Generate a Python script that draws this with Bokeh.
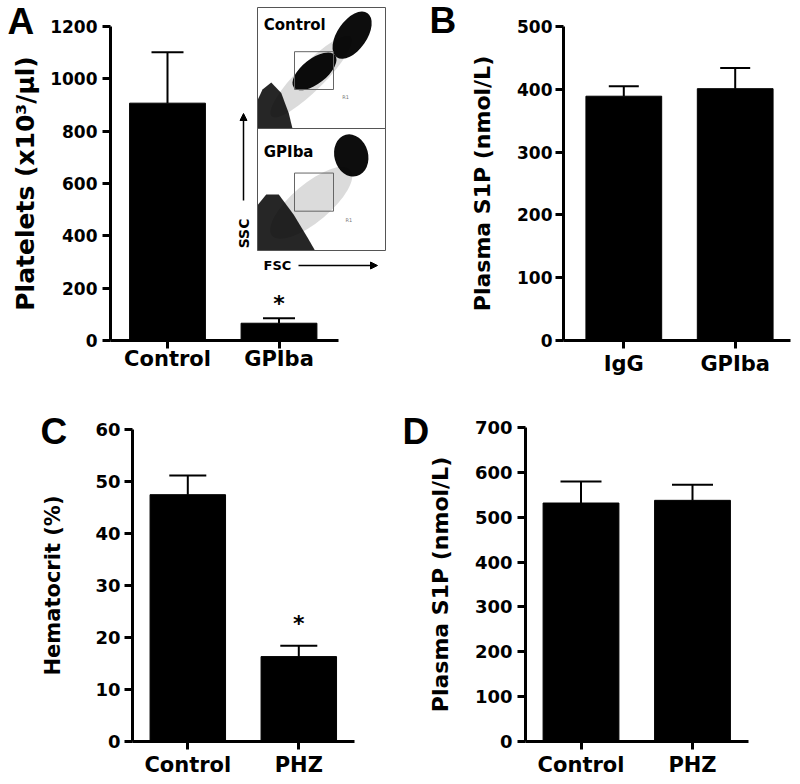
from bokeh.plotting import figure
from bokeh.layouts import column, row
from bokeh.models import Range1d, FixedTicker, Arrow, NormalHead
from bokeh.core.properties import value
from bokeh.embed import file_html
from bokeh.resources import INLINE

FONT = "DejaVu Sans"
LFONT = "Liberation Sans"

# ---------------- data ----------------
a_groups = ["Control", "GPIba"]
a_means = [907, 66]
a_sems = [195, 19]
a_sig = ["", "*"]
a_ticks = [0, 200, 400, 600, 800, 1000, 1200]

b_groups = ["IgG", "GPIba"]
b_means = [389, 401]
b_sems = [16, 33]
b_sig = ["", ""]
b_ticks = [0, 100, 200, 300, 400, 500]

c_groups = ["Control", "PHZ"]
c_means = [47.5, 16.3]
c_sems = [3.7, 2.1]
c_sig = ["", "*"]
c_ticks = [0, 10, 20, 30, 40, 50, 60]

d_groups = ["Control", "PHZ"]
d_means = [532, 538]
d_sems = [48, 35]
d_sig = ["", ""]
d_ticks = [0, 100, 200, 300, 400, 500, 600, 700]

# inset: flow cytometry FSC/SSC (channels 0-1024)
inset_titles = ["Control", "GPIba"]
inset_title_fsc = [50, 50]
inset_title_ssc = [872, 825]
gate_fsc = [296, 608]
gate_ssc = [330, 650]
gate_label_fsc = [678, 704]
gate_label_ssc = [269, 252]
top_pop_fsc = [430, 757, 456]
top_pop_ssc = [440, 790, 484]
top_pop_w = [900, 430, 420]
top_pop_h = [230, 250, 210]
top_pop_ang = [45, 55, 38]
top_pop_alpha = [0.14, 0.95, 0.95]
bot_pop_fsc = [430, 750]
bot_pop_ssc = [400, 798]
bot_pop_w = [820, 270]
bot_pop_h = [320, 360]
bot_pop_ang = [40, 15]
bot_pop_alpha = [0.14, 0.95]
top_debris_fsc = [0, 280, 250, 190, 110, 40, 0]
top_debris_ssc = [0, 0, 130, 300, 390, 330, 240]
bot_debris_fsc = [0, 460, 400, 290, 170, 70, 0]
bot_debris_ssc = [0, 0, 110, 300, 470, 470, 380]
ssc_arrow = [-112, 420, -112, 1150]
fsc_arrow = [328, -126, 960, -126]
ssc_text = [-112, 143]
fsc_text = [48, -126]


def make_panel(groups, means, sems, sig, ticks, ylabel, letter, g):
    ppu_x = g["ppu"]
    ppu_y = g["span"] / ticks[-1]
    xs0 = 1 - (g["c1"] - g["ox"]) / ppu_x
    ys0 = -(g["oy"] + g["h"] - g["zero"]) / ppu_y
    ys1 = (g["zero"] - g["oy"]) / ppu_y
    p = figure(width=g["w"], height=g["h"], output_backend="svg", toolbar_location=None,
               min_border_left=0, min_border_right=0, min_border_top=0, min_border_bottom=0,
               x_range=Range1d(xs0, xs0 + g["w"] / ppu_x), y_range=Range1d(ys0, ys1),
               background_fill_color="white", border_fill_color="white")
    xs = list(range(1, len(groups) + 1))
    tops = [m + s for m, s in zip(means, sems)]
    hw = g["cap"] / 2 / ppu_x
    p.segment(x0=xs, y0=means, x1=xs, y1=tops, line_color="black", line_width=2)
    p.segment(x0=[x - hw for x in xs], y0=tops, x1=[x + hw for x in xs], y1=tops,
              line_color="black", line_width=2)
    p.vbar(x=xs, top=means, width=0.68, fill_color="black", line_color="black")
    p.text(x=xs, y=tops, text=sig, text_font=value(FONT), text_font_size="22px",
           text_font_style="bold", text_align="center", text_baseline="alphabetic",
           y_offset=g["ast_off"], text_color="black")
    # axes fixed at data locations inside the (full-size) frame
    yloc = xs0 + (g["axis_x"] - g["ox"]) / ppu_x
    p.yaxis.fixed_location = yloc
    p.xaxis.fixed_location = 0
    p.xaxis.ticker = FixedTicker(ticks=xs)
    p.xaxis.major_label_overrides = {x: gname for x, gname in zip(xs, groups)}
    p.xaxis.bounds = (yloc, xs0 + (g["axis_end"] - g["ox"]) / ppu_x)
    p.yaxis.ticker = FixedTicker(ticks=ticks)
    p.yaxis.bounds = (0, ticks[-1])
    p.yaxis.axis_label = ylabel
    for ax in (p.xaxis, p.yaxis):
        ax.axis_line_width = 3
        ax.axis_line_color = "black"
        ax.major_tick_line_width = 3
        ax.major_tick_line_color = "black"
        ax.major_tick_out = 8
        ax.major_tick_in = 0
        ax.minor_tick_line_color = None
        ax.major_label_text_font = FONT
        ax.major_label_text_font_style = "bold"
        ax.major_label_text_color = "black"
        ax.axis_label_text_font = FONT
        ax.axis_label_text_font_style = "bold"
        ax.axis_label_text_color = "black"
    p.xaxis.major_label_text_font_size = "21px"
    p.yaxis.major_label_text_font_size = g["tick_fs"]
    p.xaxis.major_label_standoff = g["xstand"]
    p.yaxis.major_label_standoff = g["ystand"]
    p.yaxis.axis_label_standoff = g["lstand"]
    p.yaxis.axis_label_text_font_size = g["lab_fs"]
    p.xgrid.grid_line_color = None
    p.ygrid.grid_line_color = None
    p.outline_line_color = None
    # panel letter
    p.text(x=[xs0 + (g["lx"] - g["ox"]) / ppu_x], y=[(g["zero"] - g["ly"]) / ppu_y], text=[letter],
           text_font=value(LFONT), text_font_size="37px", text_font_style="bold",
           text_baseline="alphabetic", text_align="left", text_color="black")
    return p


# geometry in page pixels
gA = dict(ox=0, oy=0, w=400, h=389, axis_x=110, zero=340, span=314, c1=167, ppu=111.5,
          axis_end=338, cap=32, ast_off=-15, tick_fs="17px", xstand=-2, ystand=5, lstand=7,
          lab_fs="25px", lx=7, ly=21)
gB = dict(ox=400, oy=0, w=399, h=389, axis_x=563, zero=340, span=314, c1=623.3, ppu=111.4,
          axis_end=790, cap=30, ast_off=-4, tick_fs="17px", xstand=3, ystand=3, lstand=19,
          lab_fs="22px", lx=429, ly=20)
gC = dict(ox=0, oy=389, w=400, h=394, axis_x=132, zero=740.7, span=311.4, c1=187.3, ppu=111.0,
          axis_end=354, cap=37, ast_off=-22, tick_fs="18px", xstand=4, ystand=4, lstand=27,
          lab_fs="21px", lx=40, ly=431)
gD = dict(ox=400, oy=389, w=399, h=394, axis_x=525, zero=740.7, span=313.4, c1=580.5, ppu=111.5,
          axis_end=748, cap=41, ast_off=-4, tick_fs="18px", xstand=4, ystand=5, lstand=19,
          lab_fs="22px", lx=402, ly=431)

pA = make_panel(a_groups, a_means, a_sems, a_sig, a_ticks, "Platelets (x10\u00b3/\u03bcl)", "A", gA)
pB = make_panel(b_groups, b_means, b_sems, b_sig, b_ticks, "Plasma S1P (nmol/L)", "B", gB)
pC = make_panel(c_groups, c_means, c_sems, c_sig, c_ticks, "Hematocrit (%)", "C", gC)
pD = make_panel(d_groups, d_means, d_sems, d_sig, d_ticks, "Plasma S1P (nmol/L)", "D", gD)

# ---------------- inset in panel A ----------------
# inset box: x 257..385, top panel y 7..128, bottom panel y 128..250 (page px); frame = whole figure 400x389
fx_ppu = 128 / 1024
ty_ppu = 121 / 1024
by_ppu = 122 / 1024
pA.extra_x_ranges = {"fsc": Range1d(-257 / fx_ppu, (400 - 257) / fx_ppu)}
pA.extra_y_ranges = {"ssc_top": Range1d(-(389 - 128) / ty_ppu, 128 / ty_ppu),
                     "ssc_bot": Range1d(-(389 - 250) / by_ppu, 250 / by_ppu)}

pA.ellipse(x=top_pop_fsc, y=top_pop_ssc, width=top_pop_w, height=top_pop_h, angle=top_pop_ang,
           angle_units="deg", fill_color="black", fill_alpha=top_pop_alpha, line_color=None,
           x_range_name="fsc", y_range_name="ssc_top")
pA.ellipse(x=bot_pop_fsc, y=bot_pop_ssc, width=bot_pop_w, height=bot_pop_h, angle=bot_pop_ang,
           angle_units="deg", fill_color="black", fill_alpha=bot_pop_alpha, line_color=None,
           x_range_name="fsc", y_range_name="ssc_bot")
pA.patch(x=top_debris_fsc, y=top_debris_ssc, fill_color="black", fill_alpha=0.85, line_color=None,
         x_range_name="fsc", y_range_name="ssc_top")
pA.patch(x=bot_debris_fsc, y=bot_debris_ssc, fill_color="black", fill_alpha=0.85, line_color=None,
         x_range_name="fsc", y_range_name="ssc_bot")
for rn in ("ssc_top", "ssc_bot"):
    pA.quad(left=[0], right=[1024], bottom=[0], top=[1024], fill_color=None,
            line_color="#555555", line_width=1, x_range_name="fsc", y_range_name=rn)
    pA.quad(left=[gate_fsc[0]], right=[gate_fsc[1]], bottom=[gate_ssc[0]], top=[gate_ssc[1]],
            fill_color=None, line_color="#666666", line_width=1,
            x_range_name="fsc", y_range_name=rn)
pA.text(x=[inset_title_fsc[0]], y=[inset_title_ssc[0]], text=[inset_titles[0]],
        text_font=value(FONT), text_font_size="15px", text_font_style="bold",
        text_baseline="middle", text_color="black", x_range_name="fsc", y_range_name="ssc_top")
pA.text(x=[inset_title_fsc[1]], y=[inset_title_ssc[1]], text=[inset_titles[1]],
        text_font=value(FONT), text_font_size="15px", text_font_style="bold",
        text_baseline="middle", text_color="black", x_range_name="fsc", y_range_name="ssc_bot")
pA.text(x=[gate_label_fsc[0]], y=[gate_label_ssc[0]], text=["R1"], text_font=value(FONT),
        text_font_size="5px", text_color="#777777", text_baseline="middle",
        x_range_name="fsc", y_range_name="ssc_top")
pA.text(x=[gate_label_fsc[1]], y=[gate_label_ssc[1]], text=["R1"], text_font=value(FONT),
        text_font_size="5px", text_color="#777777", text_baseline="middle",
        x_range_name="fsc", y_range_name="ssc_bot")
pA.text(x=[ssc_text[0]], y=[ssc_text[1]], text=["SSC"], angle=90, angle_units="deg",
        text_font=value(FONT), text_font_size="14px", text_font_style="bold",
        text_align="center", text_baseline="middle", text_color="black",
        x_range_name="fsc", y_range_name="ssc_bot")
pA.text(x=[fsc_text[0]], y=[fsc_text[1]], text=["FSC"],
        text_font=value(FONT), text_font_size="13px", text_font_style="bold",
        text_align="left", text_baseline="middle", text_color="black",
        x_range_name="fsc", y_range_name="ssc_bot")
pA.add_layout(Arrow(end=NormalHead(size=7, fill_color="black", line_color="black"),
                    x_start=ssc_arrow[0], y_start=ssc_arrow[1], x_end=ssc_arrow[2], y_end=ssc_arrow[3],
                    line_width=1.5, line_color="black", x_range_name="fsc", y_range_name="ssc_bot"))
pA.add_layout(Arrow(end=NormalHead(size=7, fill_color="black", line_color="black"),
                    x_start=fsc_arrow[0], y_start=fsc_arrow[1], x_end=fsc_arrow[2], y_end=fsc_arrow[3],
                    line_width=1.5, line_color="black", x_range_name="fsc", y_range_name="ssc_bot"))

layout = column(row(pA, pB), row(pC, pD))
open("out.html", "w").write(file_html(layout, INLINE))
